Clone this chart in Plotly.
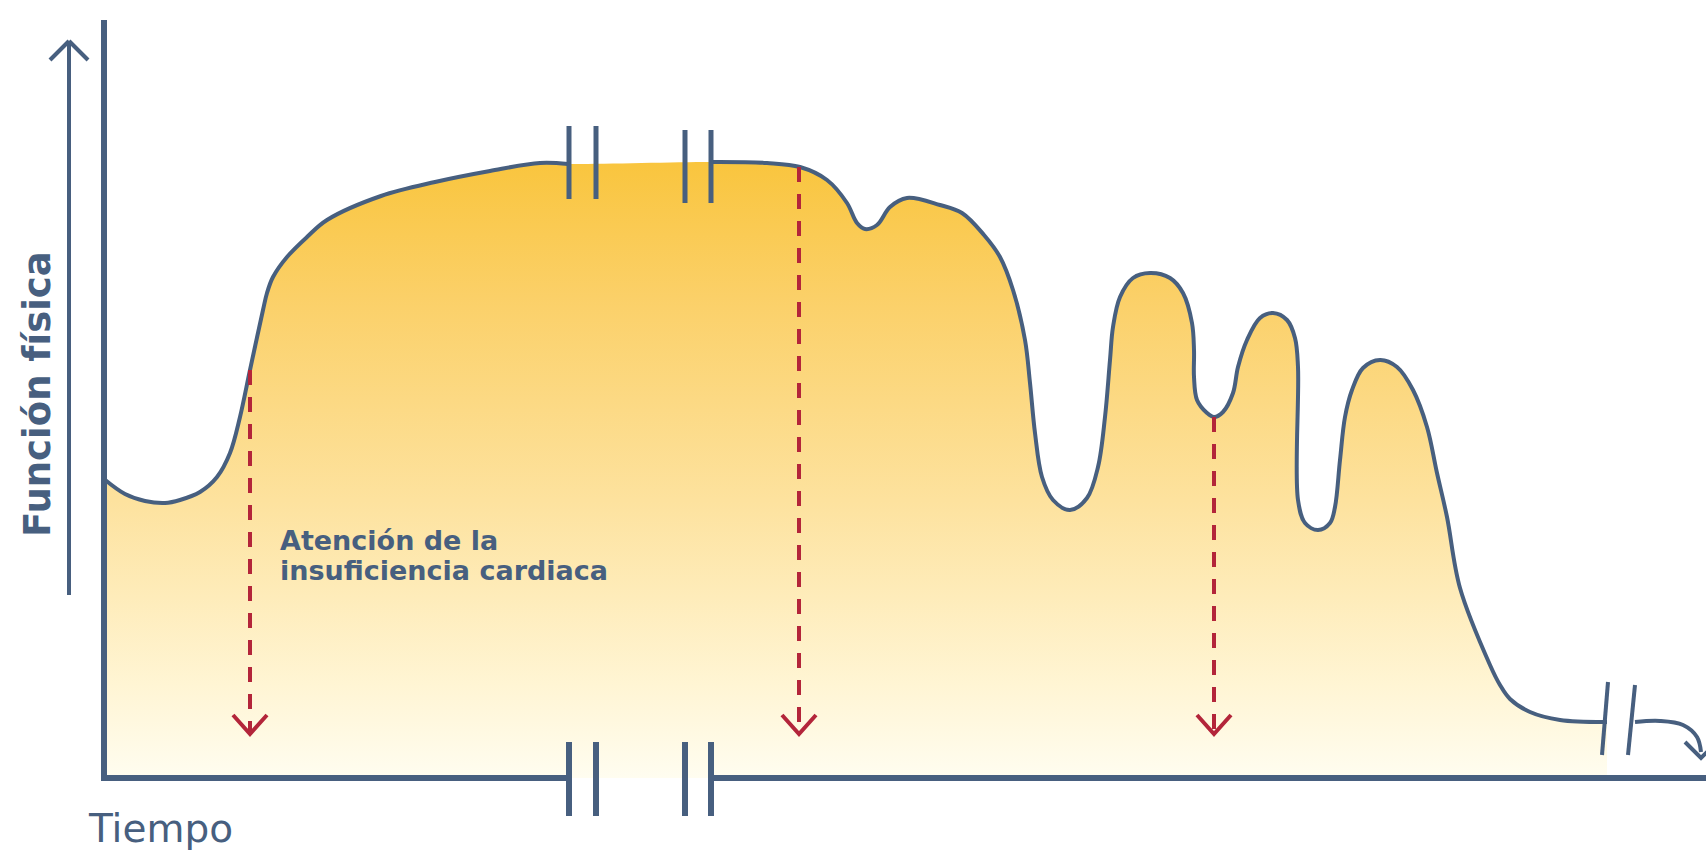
import plotly.graph_objects as go

# ---------------- data (time units vs. physical function units) ----------------
# left part of the trajectory (before the time break)
t_left = [0, 21, 41, 61, 76, 96, 113, 126, 136, 146, 159, 163, 169, 183, 203, 223,
          277, 331, 386, 436, 464]
f_left = [299, 284, 277, 275, 278, 286, 301, 325, 361, 408, 468, 485, 501, 521, 541, 558,
          582, 596, 607, 615, 614]

# right part of the trajectory (after the time break)
t_right = [609, 663, 696, 723, 743, 753, 761, 773, 786, 803, 836, 858, 880, 896, 909,
           921, 926, 931, 938, 949, 966, 983, 994, 1001, 1006, 1009, 1016, 1029, 1046, 1066,
           1079, 1088, 1090, 1090, 1093, 1103, 1110, 1119, 1129, 1134, 1143, 1156, 1169, 1183,
           1191, 1194, 1194, 1201, 1214, 1226, 1231, 1236, 1241, 1248, 1259, 1276, 1293, 1309,
           1323, 1333, 1343, 1356, 1386, 1396, 1406, 1426, 1456, 1503]
f_right = [616, 615, 611, 598, 575, 555, 549, 553, 571, 580, 573, 565, 543, 521, 488,
           438, 395, 345, 301, 278, 268, 280, 311, 361, 418, 451, 481, 500, 505, 500,
           485, 455, 428, 401, 378, 365, 361, 366, 385, 411, 438, 460, 465, 458,
           440, 411, 278, 255, 248, 255, 271, 318, 361, 388, 410, 418, 411, 388,
           351, 305, 261, 190, 113, 93, 79, 66, 58, 56]

# end of trajectory (after second break)
t_end = [1531, 1556, 1579, 1593, 1597]
f_end = [56, 57, 53, 41, 26]

# event markers (dashed arrows): time and function level
event_t = [146, 695, 1110]
event_f = [408, 611, 361]
event_bottom = 45

y_label = "Función física"
x_label = "Tiempo"
note_lines = ["Atención de la", "insuficiencia cardiaca"]

# ---------------- styles ----------------
NAVY = "#475f7f"
RED = "#b3253a"
FONT = "DejaVu Sans"
SMOOTH = 1.0

fig = go.Figure()

# gradient fill under the curve
fill_t = t_left + t_right
fill_f = f_left + f_right
fig.add_trace(go.Scatter(
    x=fill_t, y=fill_f, mode="lines", fill="tozeroy",
    line=dict(width=0, shape="spline", smoothing=SMOOTH),
    fillgradient=dict(type="vertical", start=0, stop=616,
                      colorscale=[[0, "#fffdf0"], [0.15, "#fff5d4"], [0.45, "#fde29e"],
                                  [0.78, "#fbd068"], [1, "#f9c53e"]]),
    hoverinfo="skip", showlegend=False))

for tx, fy in [(t_left, f_left), (t_right, f_right), (t_end, f_end)]:
    fig.add_trace(go.Scatter(x=tx, y=fy, mode="lines",
                             line=dict(color=NAVY, width=4, shape="spline", smoothing=SMOOTH),
                             hoverinfo="skip", showlegend=False))

# dashed event arrows
for et, ef in zip(event_t, event_f):
    fig.add_trace(go.Scatter(x=[et, et], y=[ef, event_bottom], mode="lines",
                             line=dict(color=RED, width=4, dash="15px,12px"),
                             hoverinfo="skip", showlegend=False))
    fig.add_trace(go.Scatter(x=[et - 17, et, et + 17],
                             y=[event_bottom + 18, event_bottom - 1, event_bottom + 18],
                             mode="lines", line=dict(color=RED, width=4),
                             hoverinfo="skip", showlegend=False))

# end arrowhead of trajectory
tip_t, tip_f = t_end[-1], f_end[-1] - 6
fig.add_trace(go.Scatter(x=[tip_t - 16, tip_t, tip_t + 16], y=[tip_f + 16, tip_f, tip_f + 16],
                         mode="lines", line=dict(color=NAVY, width=4),
                         hoverinfo="skip", showlegend=False))

shapes = []
def seg(x0, y0, x1, y1, w, color=NAVY):
    shapes.append(dict(type="line", x0=x0, y0=y0, x1=x1, y1=y1, xref="x", yref="y",
                       line=dict(color=color, width=w), layer="above"))

# axes
seg(0, 0, 0, 758, 6)
seg(-3, 0, 465, 0, 6)
seg(607, 0, 1610, 0, 6)
for bt in (465, 492, 581, 607):
    seg(bt, 36, bt, -38, 6)
# top break marks
for bt in (465, 492):
    seg(bt, 652, bt, 579, 5)
for bt in (581, 607):
    seg(bt, 648, bt, 575, 5)
# slanted break marks at end
seg(1504, 96, 1498, 23, 4)
seg(1531, 93, 1524, 23, 4)
# y arrow
seg(-35, 183, -35, 737, 4)
seg(-54, 718, -35, 737, 4)
seg(-16, 718, -35, 737, 4)

annotations = [
    dict(x=-67, y=384, text=f"<b>{y_label}</b>", textangle=-90, showarrow=False,
         font=dict(family=FONT, size=37, color=NAVY), xanchor="center", yanchor="middle"),
    dict(x=-18, y=-50, text=x_label, showarrow=False,
         font=dict(family=FONT, size=39, color=NAVY), xanchor="left", yanchor="middle"),
    dict(x=174, y=238, text=f"<b>{note_lines[0]}</b>", showarrow=False,
         font=dict(family=FONT, size=27, color=NAVY), xanchor="left", yanchor="middle"),
    dict(x=174, y=208, text=f"<b>{note_lines[1]}</b>", showarrow=False,
         font=dict(family=FONT, size=27, color=NAVY), xanchor="left", yanchor="middle"),
]

fig.update_layout(
    width=1706, height=853, margin=dict(l=0, r=0, t=0, b=0),
    paper_bgcolor="white", plot_bgcolor="white",
    xaxis=dict(range=[-104, 1602], visible=False, fixedrange=True),
    yaxis=dict(range=[-75, 778], visible=False, fixedrange=True),
    shapes=shapes, annotations=annotations, showlegend=False,
)

fig.write_html("out.html", post_script="document.body.style.margin='0';",
               config={"displayModeBar": False})
